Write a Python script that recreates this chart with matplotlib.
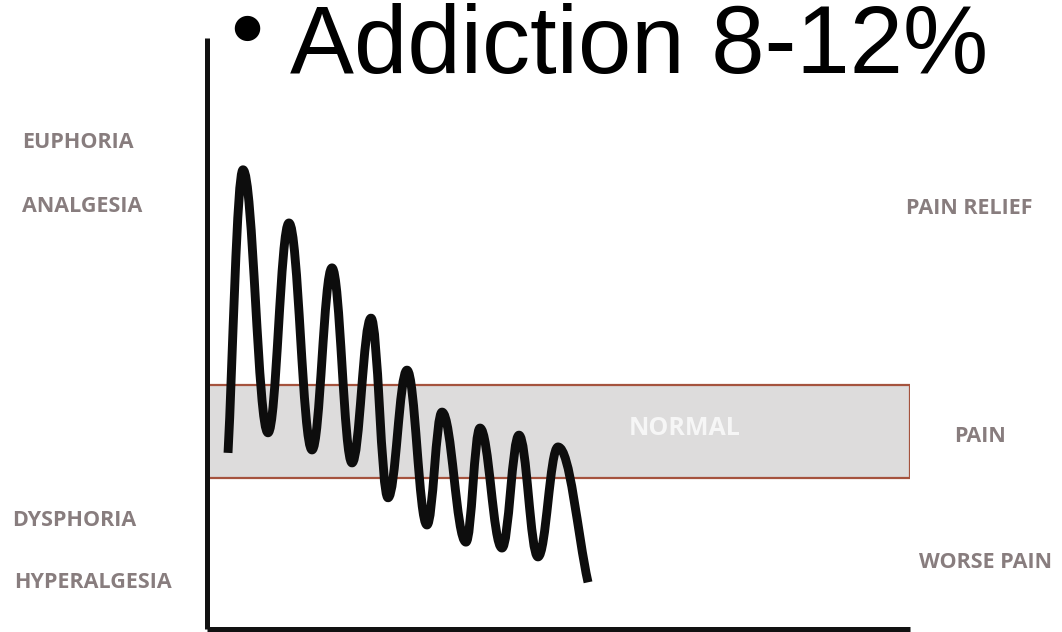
import numpy as np
import matplotlib
matplotlib.use("Agg")
import matplotlib.pyplot as plt
from matplotlib.path import Path
from matplotlib.patches import PathPatch, Rectangle

# time axis (arbitrary units, 0-100) and effect level (0-100) at the turning points of the curve
curve_x = [2.99, 5.12, 8.68, 11.66, 14.94, 17.78, 20.63, 23.33, 25.75, 28.45,
           31.29, 33.43, 36.84, 38.83, 41.96, 44.38, 47.08, 49.93, 54.20]
curve_y = [29.8, 77.7, 33.2, 68.7, 30.3, 61.1, 28.1, 52.6, 22.2, 43.8,
           17.6, 36.7, 14.7, 34.0, 13.7, 32.8, 12.2, 30.8, 7.9]

normal_low = 25.5
normal_high = 41.3

left_labels = ["EUPHORIA", "ANALGESIA", "DYSPHORIA", "HYPERALGESIA"]
right_labels = ["PAIN RELIEF", "PAIN", "WORSE PAIN"]
title = "Addiction 8-12%"

W, H = 1062, 632
label_color = "#887d7e"


def px(x, y):
    # pixel position -> figure fraction
    return x / W, 1 - y / H


def wave_path(xs, ys, k=0.4):
    # smooth bezier through the turning points, flat tangents at peaks/troughs
    verts = [(xs[0], ys[0])]
    codes = [Path.MOVETO]
    n = len(xs)
    for i in range(n - 1):
        x0, y0, x1, y1 = xs[i], ys[i], xs[i + 1], ys[i + 1]
        dx, dy = x1 - x0, y1 - y0
        if i == 0:
            c1 = (x0 + 0.3 * dx, y0 + 0.3 * dy)
        else:
            c1 = (x0 + k * dx, y0)
        if i == n - 2:
            c2 = (x1 - 0.35 * dx, y1 - 0.35 * dy)
        else:
            c2 = (x1 - k * dx, y1)
        verts += [c1, c2, (x1, y1)]
        codes += [Path.CURVE4] * 3
    return Path(verts, codes)


fig = plt.figure(figsize=(W / 100, H / 100), dpi=100)
ax = fig.add_axes([207 / W, 3 / H, 703 / W, 591 / H])
ax.set_xlim(0, 100)
ax.set_ylim(0, 100)
ax.set_xticks([])
ax.set_yticks([])
for side in ["top", "right"]:
    ax.spines[side].set_visible(False)
for side in ["left", "bottom"]:
    ax.spines[side].set_linewidth(3.6)
    ax.spines[side].set_color("#111111")
    ax.spines[side].set_capstyle("butt")

# normal band
band = Rectangle((0, normal_low), 100, normal_high - normal_low,
                 facecolor="#dddcdc", edgecolor="#a5533e", linewidth=1.6, zorder=1)
ax.add_patch(band)
ax.text(67.9, (normal_low + normal_high) / 2 + 0.5, "NORMAL", color="#f6f6f6",
        fontsize=18, fontweight="bold", family="Open Sans", ha="center", va="center",
        zorder=2)

# the opioid response curve
ax.add_patch(PathPatch(wave_path(curve_x, curve_y), facecolor="none",
                       edgecolor="#0d0d0d", linewidth=6.4, capstyle="butt",
                       joinstyle="round", zorder=3))

# side labels
left_pos = [(22, 143), (22, 206), (12, 521), (14, 583)]
right_pos = [(906, 208), (954, 437), (919, 562)]
for lab, (x, y) in zip(left_labels, left_pos):
    fig.text(*px(x, y), lab, color=label_color, fontsize=15.5, fontweight="bold",
             family="Open Sans", ha="left", va="center")
for lab, (x, y) in zip(right_labels, right_pos):
    fig.text(*px(x, y), lab, color=label_color, fontsize=15.5, fontweight="bold",
             family="Open Sans", ha="left", va="center")

# heading
fig.text(*px(290, 73), title, fontsize=69, family="Liberation Sans",
         ha="left", va="baseline", color="black")
fig.text(*px(247, 27), "\u25cf", fontsize=24, family="DejaVu Sans",
         ha="center", va="center", color="black")

fig.savefig("out.png", dpi=100)
